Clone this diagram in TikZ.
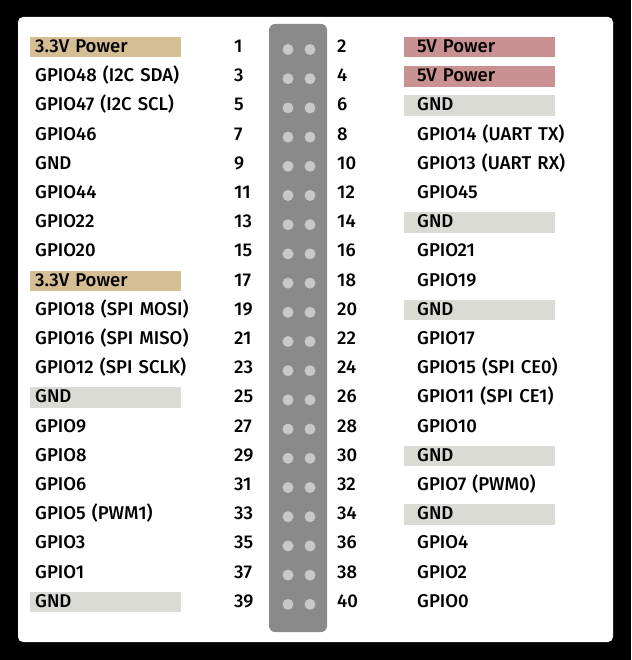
\documentclass[tikz,border=0pt]{standalone}
\usepackage{fontspec}
\setmainfont{Fira Sans}[UprightFont=* Medium]
\definecolor{powtan}{RGB}{213,189,148}
\definecolor{powpink}{RGB}{201,145,146}
\definecolor{gndgray}{RGB}{219,219,213}
\definecolor{hdrgray}{RGB}{138,138,138}
\definecolor{dotgray}{RGB}{200,200,200}
\begin{document}
\begin{tikzpicture}
        [x=1pt,y=-1pt,
        every node/.style={inner sep=0pt,anchor=base west,font=\fontsize{18.5}{20}\selectfont},
        lpin/.style={text width=141pt,inner xsep=5pt,text height=15.5pt,text depth=5pt,align=left,
            execute at begin node=\hbox\bgroup,execute at end node=\egroup},
        rpin/.style={text width=125pt,inner xsep=13pt,text height=15.5pt,text depth=5pt,align=left,
            execute at begin node=\hbox\bgroup,execute at end node=\egroup},
        tan/.style={fill=powtan},
        pink/.style={fill=powpink},
        gnd/.style={fill=gndgray},
        num/.style={},
        ]
        \useasboundingbox (0,0) rectangle (631,660);
        \fill[black] (0,0) rectangle (631,660);
        \fill[white,rounded corners=5pt] (18,17) rectangle (613,642);
        \fill[hdrgray,rounded corners=6pt] (269,24) rectangle (327,632);
        \foreach \y in {52.5,81.7,...,608}
            \fill[dotgray] (288,\y-3) circle (5.5) (310,\y-3) circle (5.5);
        % odd side
        \node[lpin,tan] (pin-1) at (30, 52.5) {3.3V Power};
        \node[lpin] (pin-3) at (30, 81.7) {GPIO48 (I2C SDA)};
        \node[lpin] (pin-5) at (30, 110.9) {GPIO47 (I2C SCL)};
        \node[lpin] (pin-7) at (30, 140.1) {GPIO46};
        \node[lpin] (pin-9) at (30, 169.3) {GND};
        \node[lpin] (pin-11) at (30, 198.5) {GPIO44};
        \node[lpin] (pin-13) at (30, 227.7) {GPIO22};
        \node[lpin] (pin-15) at (30, 256.9) {GPIO20};
        \node[lpin,tan] (pin-17) at (30, 286.1) {3.3V Power};
        \node[lpin] (pin-19) at (30, 315.3) {GPIO18 (SPI MOSI)};
        \node[lpin] (pin-21) at (30, 344.5) {GPIO16 (SPI MISO)};
        \node[lpin] (pin-23) at (30, 373.7) {GPIO12 (SPI SCLK)};
        \node[lpin,gnd] (pin-25) at (30, 402.9) {GND};
        \node[lpin] (pin-27) at (30, 432.1) {GPIO9};
        \node[lpin] (pin-29) at (30, 461.3) {GPIO8};
        \node[lpin] (pin-31) at (30, 490.5) {GPIO6};
        \node[lpin] (pin-33) at (30, 519.7) {GPIO5 (PWM1)};
        \node[lpin] (pin-35) at (30, 548.9) {GPIO3};
        \node[lpin] (pin-37) at (30, 578.1) {GPIO1};
        \node[lpin,gnd] (pin-39) at (30, 607.3) {GND};
        % even side
        \node[rpin,pink] (pin-2) at (404, 52.5) {5V Power};
        \node[rpin,pink] (pin-4) at (404, 81.7) {5V Power};
        \node[rpin,gnd] (pin-6) at (404, 110.9) {GND};
        \node[rpin] (pin-8) at (404, 140.1) {GPIO14 (UART TX)};
        \node[rpin] (pin-10) at (404, 169.3) {GPIO13 (UART RX)};
        \node[rpin] (pin-12) at (404, 198.5) {GPIO45};
        \node[rpin,gnd] (pin-14) at (404, 227.7) {GND};
        \node[rpin] (pin-16) at (404, 256.9) {GPIO21};
        \node[rpin] (pin-18) at (404, 286.1) {GPIO19};
        \node[rpin,gnd] (pin-20) at (404, 315.3) {GND};
        \node[rpin] (pin-22) at (404, 344.5) {GPIO17};
        \node[rpin] (pin-24) at (404, 373.7) {GPIO15 (SPI CE0)};
        \node[rpin] (pin-26) at (404, 402.9) {GPIO11 (SPI CE1)};
        \node[rpin] (pin-28) at (404, 432.1) {GPIO10};
        \node[rpin,gnd] (pin-30) at (404, 461.3) {GND};
        \node[rpin] (pin-32) at (404, 490.5) {GPIO7 (PWM0)};
        \node[rpin,gnd] (pin-34) at (404, 519.7) {GND};
        \node[rpin] (pin-36) at (404, 548.9) {GPIO4};
        \node[rpin] (pin-38) at (404, 578.1) {GPIO2};
        \node[rpin] (pin-40) at (404, 607.3) {GPIO0};
        % pin numbers
        \node[num] (num-1) at (234, 52.5) {1};
        \node[num] (num-3) at (234, 81.7) {3};
        \node[num] (num-5) at (234, 110.9) {5};
        \node[num] (num-7) at (234, 140.1) {7};
        \node[num] (num-9) at (234, 169.3) {9};
        \node[num] (num-11) at (234, 198.5) {11};
        \node[num] (num-13) at (234, 227.7) {13};
        \node[num] (num-15) at (234, 256.9) {15};
        \node[num] (num-17) at (234, 286.1) {17};
        \node[num] (num-19) at (234, 315.3) {19};
        \node[num] (num-21) at (234, 344.5) {21};
        \node[num] (num-23) at (234, 373.7) {23};
        \node[num] (num-25) at (234, 402.9) {25};
        \node[num] (num-27) at (234, 432.1) {27};
        \node[num] (num-29) at (234, 461.3) {29};
        \node[num] (num-31) at (234, 490.5) {31};
        \node[num] (num-33) at (234, 519.7) {33};
        \node[num] (num-35) at (234, 548.9) {35};
        \node[num] (num-37) at (234, 578.1) {37};
        \node[num] (num-39) at (234, 607.3) {39};
        \node[num] (num-2) at (337, 52.5) {2};
        \node[num] (num-4) at (337, 81.7) {4};
        \node[num] (num-6) at (337, 110.9) {6};
        \node[num] (num-8) at (337, 140.1) {8};
        \node[num] (num-10) at (337, 169.3) {10};
        \node[num] (num-12) at (337, 198.5) {12};
        \node[num] (num-14) at (337, 227.7) {14};
        \node[num] (num-16) at (337, 256.9) {16};
        \node[num] (num-18) at (337, 286.1) {18};
        \node[num] (num-20) at (337, 315.3) {20};
        \node[num] (num-22) at (337, 344.5) {22};
        \node[num] (num-24) at (337, 373.7) {24};
        \node[num] (num-26) at (337, 402.9) {26};
        \node[num] (num-28) at (337, 432.1) {28};
        \node[num] (num-30) at (337, 461.3) {30};
        \node[num] (num-32) at (337, 490.5) {32};
        \node[num] (num-34) at (337, 519.7) {34};
        \node[num] (num-36) at (337, 548.9) {36};
        \node[num] (num-38) at (337, 578.1) {38};
        \node[num] (num-40) at (337, 607.3) {40};
    \end{tikzpicture}
\end{document}
